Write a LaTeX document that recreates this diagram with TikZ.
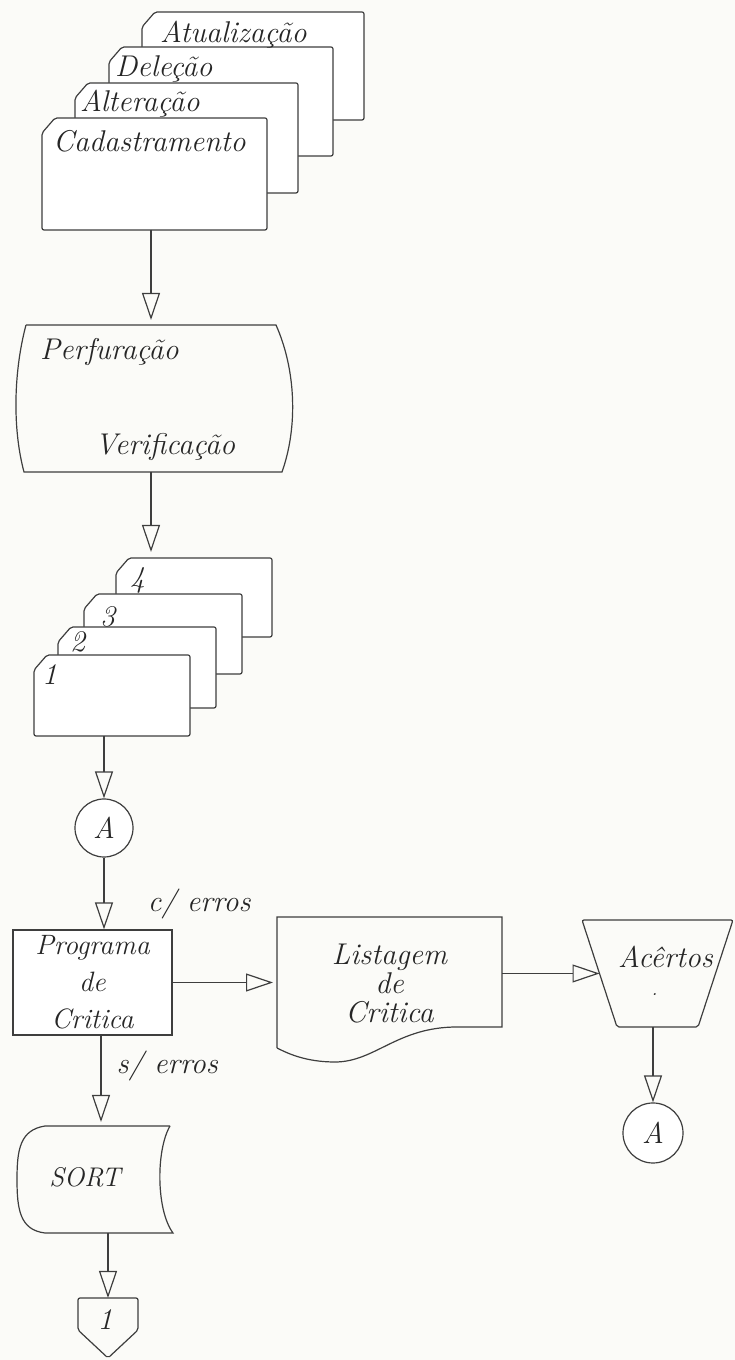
\documentclass[tikz,border=0pt]{standalone}
\usepackage{fontspec}
\usepackage{tikz}
\usetikzlibrary{arrows.meta,positioning,shapes.geometric,calc}
\definecolor{ink}{RGB}{62,62,62}
\definecolor{pen}{RGB}{38,38,38}
\definecolor{paper}{RGB}{251,251,248}

\begin{document}
\begin{tikzpicture}[
  x=1pt, y=1pt,
  line/.style={draw=ink, line width=1.2pt},
  frame/.style={inner sep=0pt, outer sep=0pt},
  cardline/.style={line, fill=white, rounded corners=2pt},
  box/.style={line, rectangle, fill=white, inner sep=0pt},
  conn/.style={line, circle, fill=white, inner sep=0pt, minimum size=58pt},
  txt/.style={font=\fontsize{30}{36}\selectfont\itshape, text=pen, inner sep=0pt},
  arr/.style={line, -{Triangle[open, length=27pt, width=18pt]}},
]
% --- paper ------------------------------------------------------------------
\fill[paper] (0,0) rectangle (735,1360);

% --- input forms, back to front --------------------------------------------
\node[frame, minimum width=222pt, minimum height=108pt] (atual) at (253,1294) {};
\node[frame, minimum width=224pt, minimum height=109pt] (delecao) at (221,1258.5) {};
\node[frame, minimum width=223pt, minimum height=110pt] (alter) at (186.5,1222) {};
\node[frame, minimum width=225pt, minimum height=112pt] (cad) at (154.5,1186) {};
% --- punched decks 1..4 -----------------------------------------------------
\node[frame, minimum width=156pt, minimum height=79pt] (c4) at (194,762.5) {};
\node[frame, minimum width=158pt, minimum height=80pt] (c3) at (163,726) {};
\node[frame, minimum width=158pt, minimum height=81pt] (c2) at (137,692.5) {};
\node[frame, minimum width=156pt, minimum height=81pt] (c1) at (112,664.5) {};
% card outlines with the cut corner, back ones first
\foreach \c in {atual,delecao,alter,cad,c4,c3,c2,c1}
  \draw[cardline] ([yshift=-15pt]\c.north west) -- ([xshift=13pt]\c.north west)
    -- (\c.north east) -- (\c.south east) -- (\c.south west) -- cycle;
\node[txt, anchor=base west] (tatual) at ([xshift=18pt, yshift=-31pt]atual.north west) {Atualização};
\node[txt, anchor=base west] (tdelecao) at ([xshift=6pt, yshift=-30pt]delecao.north west) {Deleção};
\node[txt, anchor=base west] (talter) at ([xshift=5pt, yshift=-29pt]alter.north west) {Alteração};
\node[txt, anchor=base west] (tcad) at ([xshift=11pt, yshift=-34pt]cad.north west) {Cadastramento};
\node[txt, anchor=base west] (t4) at ([xshift=14pt, yshift=-30pt]c4.north west) {4};
\node[txt, anchor=base west] (t3) at ([xshift=16pt, yshift=-33pt]c3.north west) {3};
\node[txt, anchor=base west] (t2) at ([xshift=12pt, yshift=-25pt]c2.north west) {2};
\node[txt, anchor=base west] (t1) at ([xshift=8pt, yshift=-30pt]c1.north west) {1};

% --- keying -----------------------------------------------------------------
\node[frame, minimum width=250pt, minimum height=147pt] (perf) at (151,961.5) {};
\draw[line] (perf.north west) -- (perf.north east)
  .. controls +(20,-45) and +(16,45) .. ([xshift=6pt]perf.south east)
  -- ([xshift=-2pt]perf.south west)
  .. controls +(-12,45) and +(-12,-45) .. (perf.north west);
\node[txt, anchor=base west] (tperf) at ([xshift=14pt, yshift=-35pt]perf.north west) {Perfuração};
\node[txt, anchor=base west] (tverif) at ([xshift=69pt, yshift=17pt]perf.south west) {Verificação};

% --- check program ----------------------------------------------------------
\node[conn, txt] (conA) at (104,532) {A};
\node[box, txt, font=\fontsize{28}{37}\selectfont\itshape, align=center,
  minimum width=159pt, minimum height=105pt] (prog) at (92.5,377.5) {Programa\\de\\Critica};
\node[txt, anchor=base west] (lblc) at ([xshift=-25pt, yshift=18pt]prog.north east) {c/ erros};
\node[txt, anchor=base west] (lbls) at ([xshift=24pt, yshift=-38pt]prog.south) {s/ erros};

% --- listing and corrections ------------------------------------------------
\node[frame, txt, align=center, font=\fontsize{30}{29}\selectfont\itshape,
  minimum width=225pt, minimum height=133pt] (list) at (389.5,376.5) {Listagem\\de\\Critica};
\draw[line] ([yshift=2pt]list.south west) -- (list.north west) -- (list.north east)
  -- ([yshift=23pt]list.south east) -- ++(-45,0)
  .. controls +(-60,0) and +(40,0) .. ([xshift=58pt, yshift=-12pt]list.south west)
  .. controls +(-30,0) and +(10,-5) .. ([yshift=2pt]list.south west);
\node[frame, minimum width=151pt, minimum height=107pt] (acer) at (657.5,386.5) {};
\draw[line, rounded corners=2pt] (acer.north west) -- (acer.north east) -- ([xshift=-35pt]acer.south east)
  -- ([xshift=35pt]acer.south west) -- cycle;
\node[txt, anchor=base] (tacer) at ([xshift=8pt, yshift=6pt]acer.center) {Acêrtos};
\node[txt, font=\fontsize{20}{22}\selectfont\itshape] (dacer) at ([xshift=-3pt, yshift=-21pt]acer.center) {.};
\node[conn, txt, minimum size=60pt] (conA2) at (653,227) {A};

% --- sort and page connector ------------------------------------------------
\node[frame, minimum width=142pt, minimum height=107pt] (sort) at (101,180.5) {};
\draw[line] ([xshift=-2pt]sort.north east) -- ([xshift=15pt]sort.north west)
  .. controls +(-25,-4) and +(0,30) .. ([xshift=-13pt]sort.west)
  .. controls +(0,-30) and +(-25,3) .. ([xshift=15pt]sort.south west)
  -- ([xshift=1pt]sort.south east)
  .. controls +(-17,23) and +(-14,-24) .. ([xshift=-2pt]sort.north east);
\node[txt, font=\fontsize{27}{30}\selectfont\itshape] (tsort) at ([xshift=-16pt, yshift=2pt]sort.center) {SORT};
\node[frame, minimum width=60pt, minimum height=32pt] (pg) at (108,46) {};
\draw[line, rounded corners=2pt] (pg.north west) -- (pg.north east) -- (pg.south east) -- ([yshift=-28pt]pg.south) -- (pg.south west) -- cycle;
\node[txt] (tpg) at ([xshift=-3pt, yshift=-6pt]pg.center) {1};

% --- arrows -----------------------------------------------------------------
\draw[arr] (cad.south -| perf.north) -- ([yshift=5pt]perf.north);
\draw[arr] (perf.south) -- ([yshift=6pt]perf.south |- c4.north);
\draw[arr] (c1.south -| conA.north) -- (conA.north);
\draw[arr] (conA.south) -- (conA.south |- prog.north);
\draw[arr] (prog.east) -- ([xshift=-4pt]prog.east -| list.west);
\draw[arr] (list.east |- acer.west) -- ([xshift=17.5pt]acer.west);
\draw[arr] (acer.south -| conA2.north) -- (conA2.north);
\draw[arr] (prog.south -| sort.north) -- ([yshift=4pt]sort.north);
\draw[arr] (sort.south -| pg.north) -- (pg.north);
\end{tikzpicture}
\end{document}
